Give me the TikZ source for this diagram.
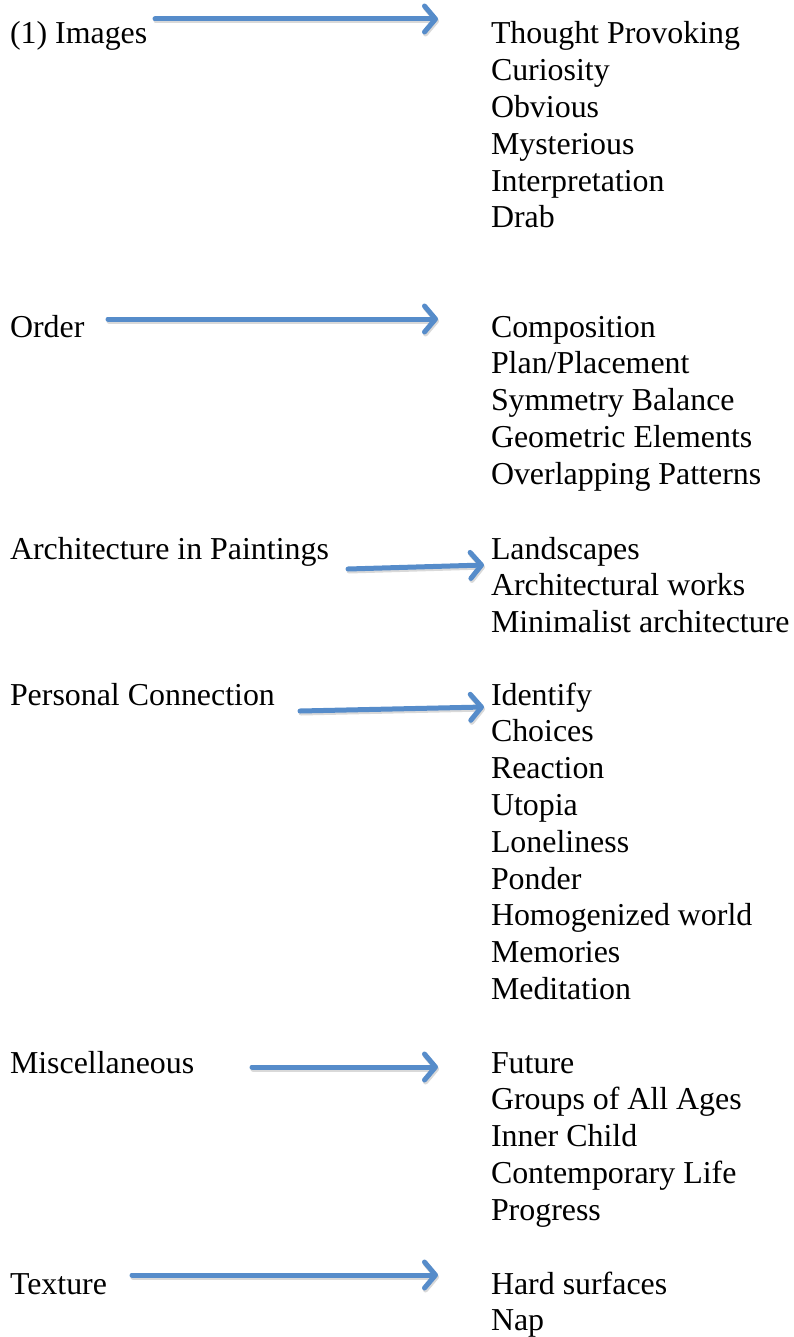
\documentclass[tikz,border=0pt]{standalone}
\usepackage{fontspec}
\setmainfont{Liberation Serif}
\usetikzlibrary{arrows.meta}
\definecolor{arrowblue}{RGB}{86,140,202}
\definecolor{shadowgray}{RGB}{170,170,170}
\tikzset{
  lbl/.style={anchor=base west, inner sep=0pt, outer sep=0pt, font=\fontsize{31.9pt}{36.8pt}\selectfont},
  conn/.style={draw=arrowblue, line width=5pt, line cap=round,
    -{Straight Barb[length=11pt, width=26pt, round]}},
  connshadow/.style={draw=shadowgray, opacity=0.45, line width=5pt, line cap=round,
    -{Straight Barb[length=11pt, width=26pt, round]}},
}
\begin{document}
\begin{tikzpicture}[x=1pt, y=-1pt]
\useasboundingbox (0,0) rectangle (794,1337);
% left labels
\node[lbl] (images) at (10,44) {(1) Images};
\node[lbl] (order) at (10,337) {Order};
\node[lbl] (arch) at (10,559) {Architecture in Paintings};
\node[lbl] (pers) at (10,705) {Personal Connection};
\node[lbl] (misc) at (10,1073) {Miscellaneous};
\node[lbl] (text) at (10,1294) {Texture};
% right lists
\foreach \t [count=\i] in {Thought Provoking, Curiosity, Obvious, Mysterious, Interpretation, Drab}
  \node[lbl] (ra\i) at (491,{44+36.8*(\i-1)}) {\t};
\foreach \t [count=\i] in {Composition, Plan/Placement, Symmetry Balance, Geometric Elements, Overlapping Patterns}
  \node[lbl] (rb\i) at (491,{337+36.8*(\i-1)}) {\t};
\foreach \t [count=\i] in {Landscapes, Architectural works, Minimalist architecture}
  \node[lbl] (rc\i) at (491,{559+36.8*(\i-1)}) {\t};
\foreach \t [count=\i] in {Identify, Choices, Reaction, Utopia, Loneliness, Ponder, Homogenized world, Memories, Meditation}
  \node[lbl] (rd\i) at (491,{705+36.8*(\i-1)}) {\t};
\foreach \t [count=\i] in {Future, Groups of All Ages, Inner Child, Contemporary Life, Progress}
  \node[lbl] (re\i) at (491,{1073+36.8*(\i-1)}) {\t};
\foreach \t [count=\i] in {Hard surfaces, Nap}
  \node[lbl] (rf\i) at (491,{1294+36.8*(\i-1)}) {\t};
% arrow ends
\coordinate (a1s) at (155,19);  \coordinate (a1e) at (438,19);
\coordinate (a2s) at (108,319); \coordinate (a2e) at (438,319);
\coordinate (a3s) at (348,569); \coordinate (a3e) at (484,565);
\coordinate (a4s) at (300,711); \coordinate (a4e) at (484,707);
\coordinate (a5s) at (252,1067); \coordinate (a5e) at (438,1067);
\coordinate (a6s) at (132,1275); \coordinate (a6e) at (438,1275);
% arrows with soft shadow
\foreach \k in {1,...,6}{
  \draw[connshadow, transform canvas={shift={(1pt,-2pt)}}] (a\k s) -- (a\k e);
  \draw[conn] (a\k s) -- (a\k e);
}
\end{tikzpicture}
\end{document}
